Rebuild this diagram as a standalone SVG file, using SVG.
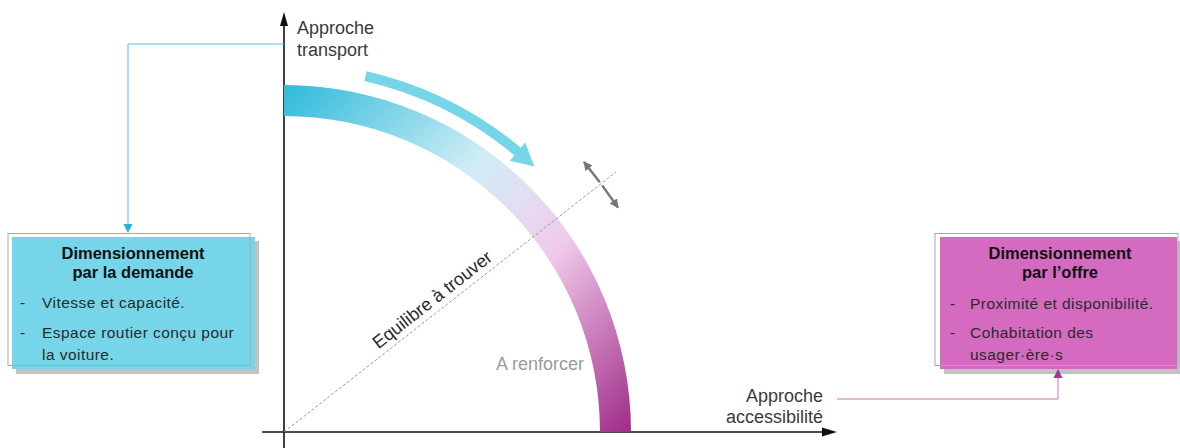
<svg xmlns="http://www.w3.org/2000/svg" width="1180" height="448" viewBox="0 0 1180 448">
<style>
text{font-family:"Liberation Sans",Arial,sans-serif}
.lbl{font-size:18px;fill:#3a3a3a}
.ttl{font-size:16.5px;font-weight:bold;fill:#111;text-anchor:middle}
.bul{font-size:15.5px;fill:#2a2a2a;letter-spacing:0.45px}
.outline{fill:none;stroke:#a8a8a8;stroke-width:1}
.shadow{fill:#c2c2c2}
.axis{stroke:#111;stroke-width:1.6;fill:none}
</style>
<defs>
<linearGradient id="arcGrad" gradientUnits="userSpaceOnUse" x1="284" y1="95" x2="630" y2="432">
<stop offset="0" stop-color="#33bcdb"/>
<stop offset="0.38" stop-color="#cfedf5"/>
<stop offset="0.52" stop-color="#e4dcf0"/>
<stop offset="0.63" stop-color="#f0c9e9"/>
<stop offset="1" stop-color="#9f2c89"/>
</linearGradient>
<marker id="grayHead" viewBox="0 0 10 10" refX="9" refY="5" markerWidth="3.6" markerHeight="3.6" orient="auto" markerUnits="strokeWidth">
<path d="M0,0 L10,5 L0,10 Z" fill="#777"/>
</marker>
</defs>

<g id="axes">
<line class="axis" x1="284" y1="448" x2="284" y2="22"/>
<path d="M284,12 L288,26 L280,26 Z" fill="#111"/>
<line class="axis" x1="262" y1="432" x2="826" y2="432"/>
<path d="M837,432 L822,427.5 L822,436.5 Z" fill="#111"/>
</g>

<g id="arc-band">
<path d="M284,85 A347,347 0 0 1 631,432 L600,432 A316,316 0 0 0 284,116 Z" fill="url(#arcGrad)"/>
</g>

<g id="curved-arrow">
<path d="M366.6,71.3 A370,370 0 0 1 520.8,147.7 L525.3,142.4 L534.3,166.4 L510,160.8 L514.4,155.4 A360,360 0 0 0 364.4,81.1 Z" fill="#76d5e8"/>
</g>

<g id="equilibrium">
<line x1="284" y1="432" x2="616" y2="172" stroke="#9a9a9a" stroke-width="1" stroke-dasharray="3 2"/>
<text class="lbl" transform="translate(378.5,349.5) rotate(-38.06)" style="fill:#2a2a2a">Equilibre à trouver</text>
<line x1="599.8" y1="182.2" x2="584" y2="162" stroke="#777" stroke-width="2.5" marker-end="url(#grayHead)"/>
<line x1="602.2" y1="185.4" x2="618" y2="207.6" stroke="#777" stroke-width="2.5" marker-end="url(#grayHead)"/>
</g>

<g id="labels">
<text class="lbl" x="297" y="34">Approche</text>
<text class="lbl" x="297" y="56">transport</text>
<text class="lbl" x="823" y="401.5" text-anchor="end">Approche</text>
<text class="lbl" x="823" y="423" text-anchor="end">accessibilité</text>
<text class="lbl" x="496" y="370" style="fill:#9a9a9a">A renforcer</text>
</g>

<g id="node-demande">
<rect class="shadow" x="16" y="241" width="243" height="133"/>
<rect x="12" y="237" width="243" height="132" fill="#77d5ea"/>
<rect class="outline" x="8" y="233.5" width="242" height="132"/>
<text class="ttl" x="133" y="259">Dimensionnement</text>
<text class="ttl" x="133" y="278">par la demande</text>
<text class="bul" x="20" y="308">-</text>
<text class="bul" x="42" y="308">Vitesse et capacité.</text>
<text class="bul" x="20" y="338">-</text>
<text class="bul" x="42" y="338">Espace routier conçu pour</text>
<text class="bul" x="42" y="360">la voiture.</text>
</g>

<g id="node-offre">
<rect class="shadow" x="944" y="241" width="240" height="133"/>
<rect x="940" y="237" width="237" height="132" fill="#d56bc1"/>
<rect class="outline" x="935" y="233.5" width="243" height="132"/>
<text class="ttl" x="1060" y="259">Dimensionnement</text>
<text class="ttl" x="1060" y="278">par l’offre</text>
<text class="bul" x="950" y="309">-</text>
<text class="bul" x="970" y="309">Proximité et disponibilité.</text>
<text class="bul" x="950" y="338">-</text>
<text class="bul" x="970" y="338">Cohabitation des</text>
<text class="bul" x="970" y="360">usager·ère·s</text>
</g>

<g id="connectors">
<polyline points="284,44 128,44 128,225" fill="none" stroke="#4cc3e2" stroke-width="1"/>
<path d="M128,233 L123.5,224 L132.5,224 Z" fill="#25b2d8"/>
<polyline points="837,399 1058,399 1058,377" fill="none" stroke="#c874b8" stroke-width="1"/>
<path d="M1058,369 L1053.5,378 L1062.5,378 Z" fill="#a33592"/>
</g>
</svg>
